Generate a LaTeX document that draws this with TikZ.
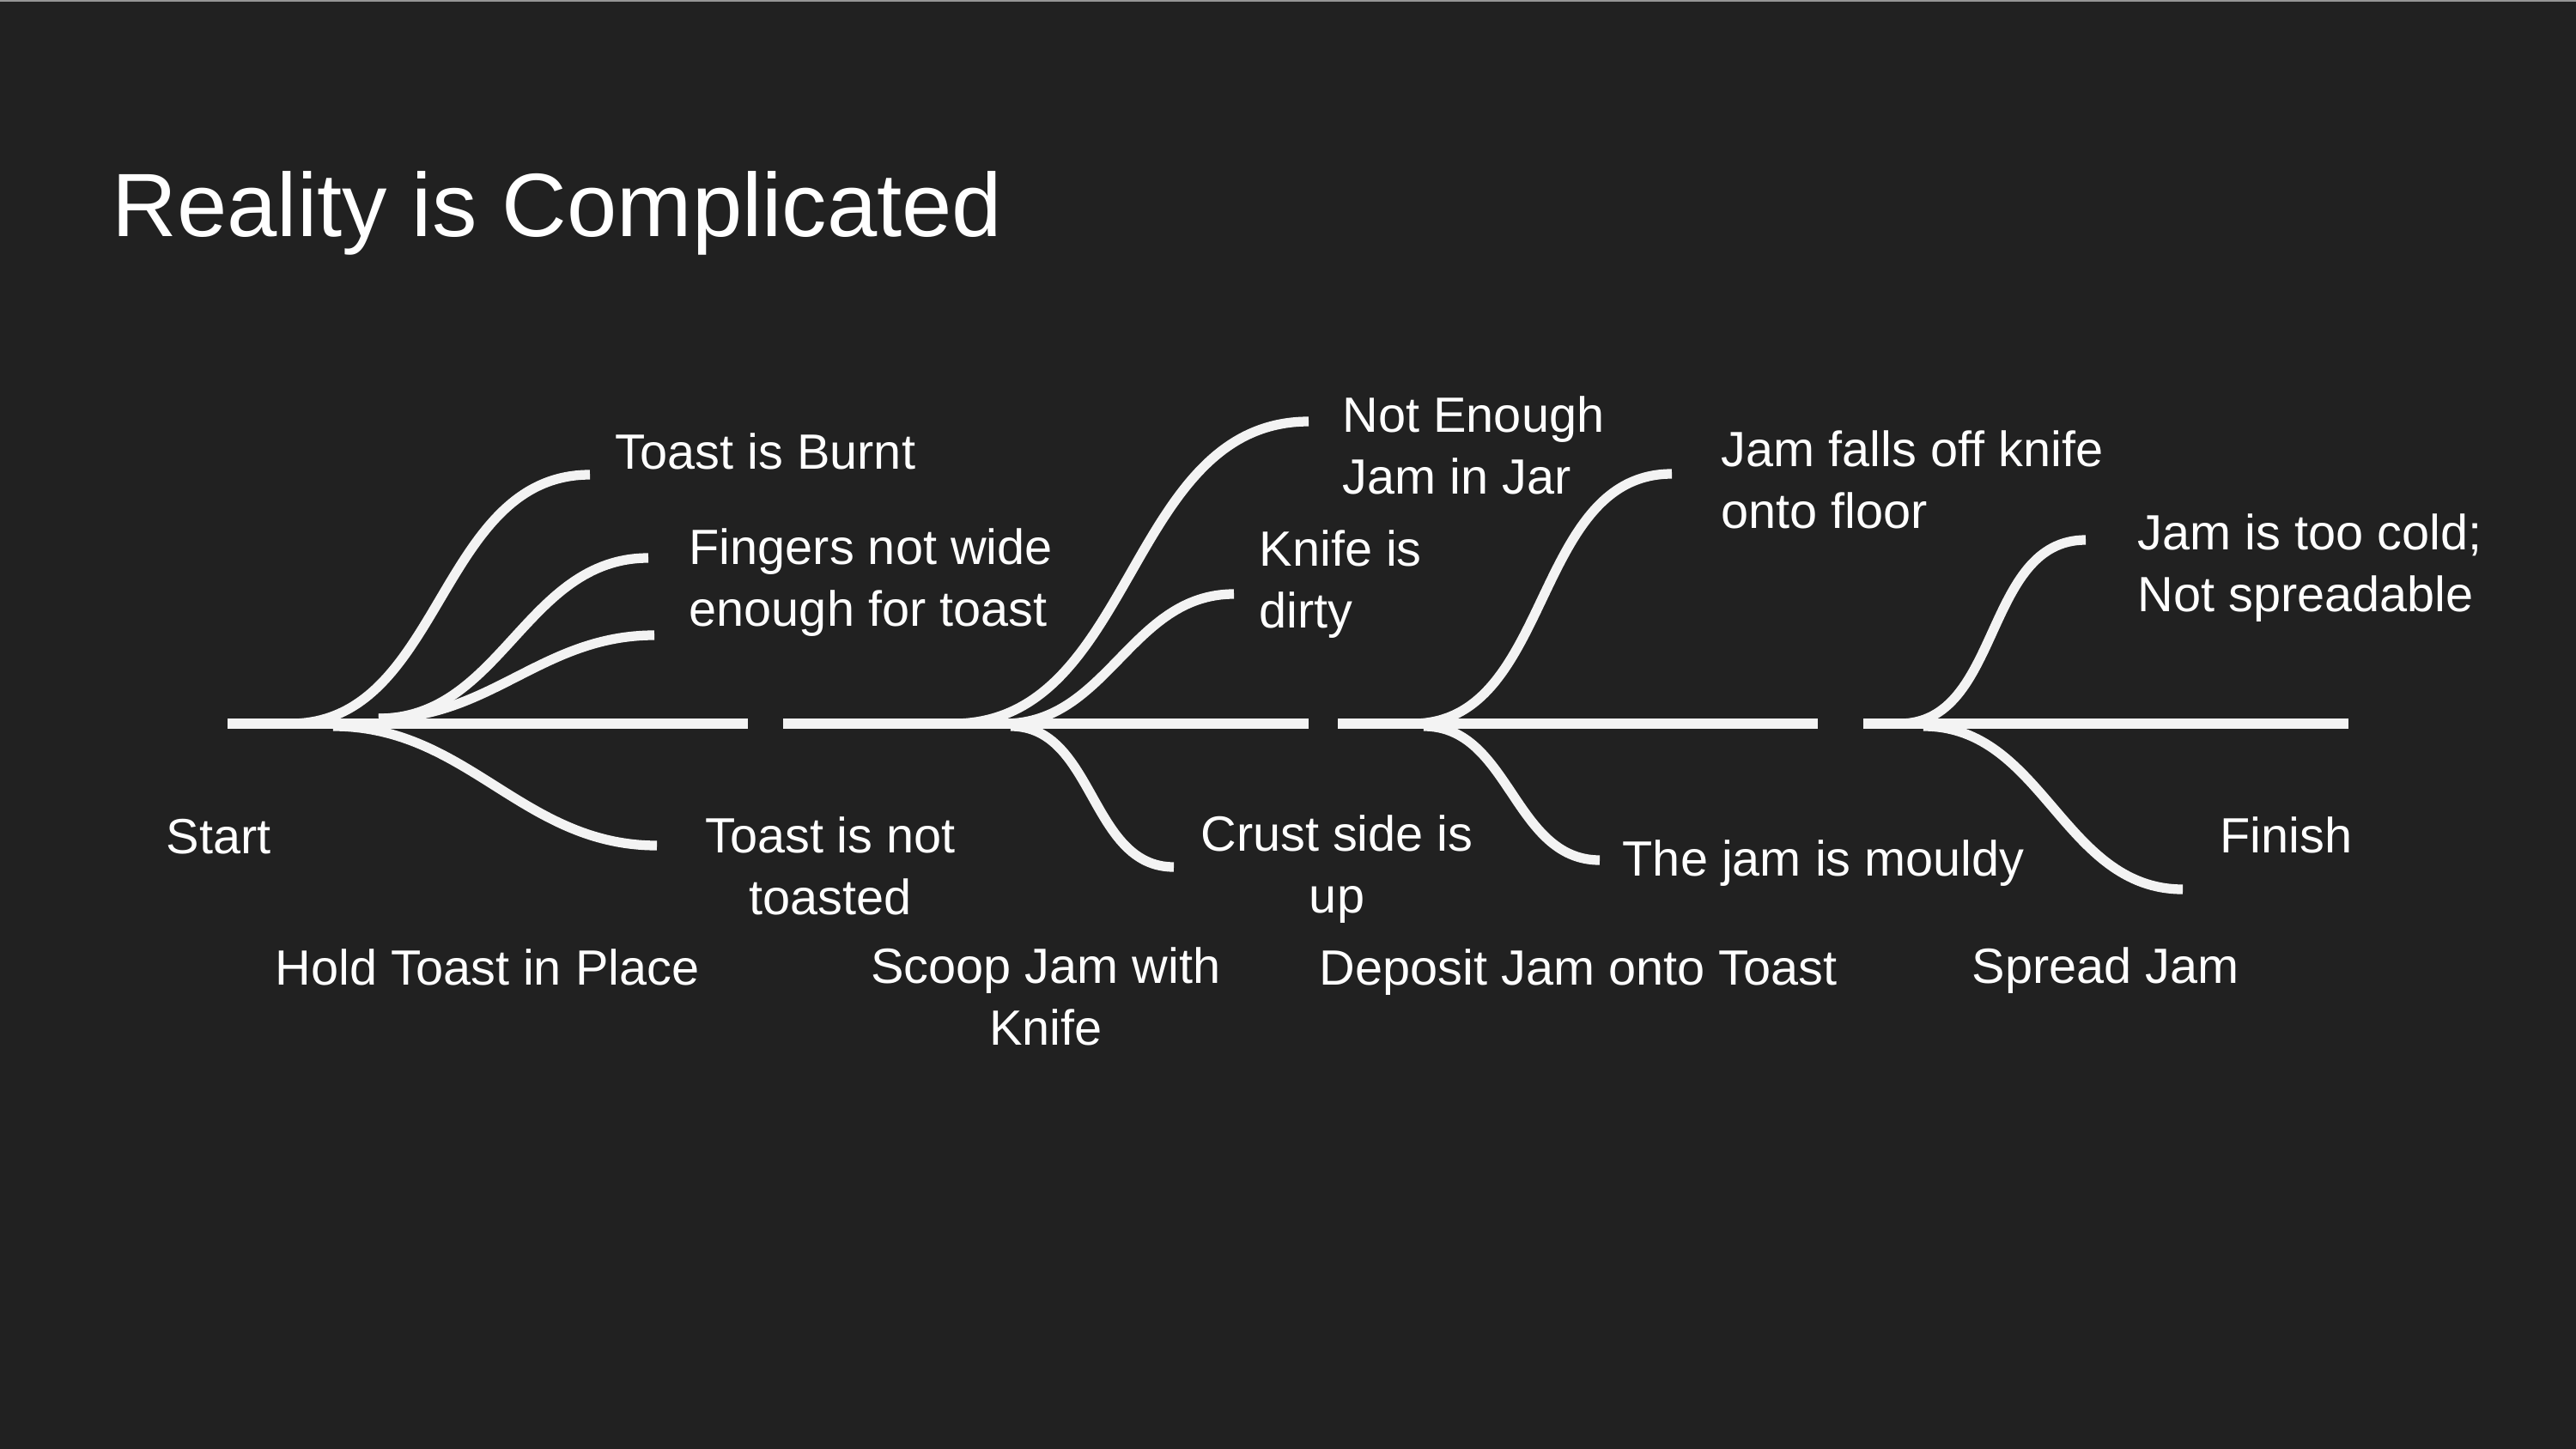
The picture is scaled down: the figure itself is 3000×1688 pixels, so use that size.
\documentclass[tikz,border=0pt]{standalone}
\usepackage{fontspec}
\setmainfont{Liberation Sans}
\usetikzlibrary{positioning}
\definecolor{slidebg}{RGB}{33,33,33}
\definecolor{trackgray}{RGB}{243,243,243}
\definecolor{edgegray}{RGB}{150,150,150}

\begin{document}
\begin{tikzpicture}[x=0.01cm, y=-0.01cm,
  track/.style={draw=trackgray, line width=3.2pt},
  branch/.style={track, out=0, in=180},
  lbl/.style={text=white, inner sep=0pt, anchor=base west, align=left,
    font=\fontsize{16.4}{20.2}\selectfont},
  clbl/.style={lbl, anchor=base, align=center},
  title/.style={text=white, inner sep=0pt, anchor=base west,
    font=\fontsize{29.8}{35}\selectfont}
  ]
  \fill[slidebg] (0,0) rectangle (3000,1688);
  \fill[edgegray] (0,0) rectangle (3000,2);

  \node[title] (title) at (130,275) {Reality is Complicated};

  % the four steps
  \coordinate (hold-a) at (265,843);    \coordinate (hold-b) at (871,843);
  \coordinate (scoop-a) at (912,843);   \coordinate (scoop-b) at (1524,843);
  \coordinate (deposit-a) at (1558,843);\coordinate (deposit-b) at (2117,843);
  \coordinate (spread-a) at (2170,843); \coordinate (spread-b) at (2735,843);
  \draw[track] (hold-a) -- (hold-b);
  \draw[track] (scoop-a) -- (scoop-b);
  \draw[track] (deposit-a) -- (deposit-b);
  \draw[track] (spread-a) -- (spread-b);

  % what can go wrong
  \coordinate (burnt-s) at (338,843);     \coordinate (burnt-e) at (687,553);
  \coordinate (fingers-s) at (441,837);   \coordinate (fingers-e) at (755,650);
  \coordinate (fingers2-s) at (441,837);  \coordinate (fingers2-e) at (762,740);
  \coordinate (raw-s) at (388,846);       \coordinate (raw-e) at (765,985);
  \coordinate (empty-s) at (1110,843);    \coordinate (empty-e) at (1524,491);
  \coordinate (dirty-s) at (1170,843);    \coordinate (dirty-e) at (1437,692);
  \coordinate (crust-s) at (1177,846);    \coordinate (crust-e) at (1367,1010);
  \coordinate (falls-s) at (1645,843);    \coordinate (falls-e) at (1947,552);
  \coordinate (mouldy-s) at (1658,846);   \coordinate (mouldy-e) at (1863,1002);
  \coordinate (cold-s) at (2212,843);     \coordinate (cold-e) at (2429,629);
  \coordinate (finish-s) at (2240,846);   \coordinate (finish-e) at (2542,1036);
  \draw[branch] (burnt-s) to (burnt-e);
  \draw[branch] (fingers-s) to (fingers-e);
  \draw[branch] (fingers2-s) to (fingers2-e);
  \draw[branch] (raw-s) to (raw-e);
  \draw[branch] (empty-s) to (empty-e);
  \draw[branch] (dirty-s) to (dirty-e);
  \draw[branch] (crust-s) to (crust-e);
  \draw[branch] (falls-s) to (falls-e);
  \draw[branch] (mouldy-s) to (mouldy-e);
  \draw[branch] (cold-s) to (cold-e);
  \draw[branch] (finish-s) to (finish-e);

  % two-line labels sit on the baseline of their last line
  \node[lbl] (start) at (193,994) {Start};
  \node[lbl] (hold) at (320,1147) {Hold Toast in Place};
  \node[clbl] (scoop) at (1218,1217) {Scoop Jam with\\Knife};
  \node[lbl] (deposit) at (1536,1147) {Deposit Jam onto Toast};
  \node[lbl] (spread) at (2296,1145) {Spread Jam};
  \node[lbl] (finish) at (2585,993) {Finish};

  \node[lbl] (burnt) at (716,546) {Toast is Burnt};
  \node[lbl] (fingers) at (802,729) {Fingers not wide\\enough for toast};
  \node[clbl] (raw) at (967,1065) {Toast is not\\toasted};
  \node[lbl] (empty) at (1563,575) {Not Enough\\Jam in Jar};
  \node[lbl] (dirty) at (1466,731) {Knife is\\dirty};
  \node[clbl] (crust) at (1557,1063) {Crust side is\\up};
  \node[lbl] (falls) at (2004,615) {Jam falls off knife\\onto floor};
  \node[lbl] (mouldy) at (1889,1020) {The jam is mouldy};
  \node[lbl] (cold) at (2489,712) {Jam is too cold;\\Not spreadable};
\end{tikzpicture}
\end{document}
